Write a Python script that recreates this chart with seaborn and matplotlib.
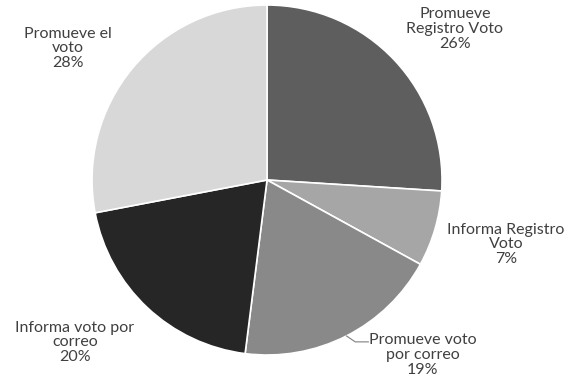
import matplotlib
matplotlib.use("Agg")
import matplotlib.pyplot as plt
import numpy as np
import seaborn as sns

categories = ["Promueve\nRegistro Voto", "Informa Registro\nVoto", "Promueve voto\npor correo",
              "Informa voto por\ncorreo", "Promueve el\nvoto"]
shares = [26, 7, 19, 20, 28]
colors = ["#5e5e5e", "#a6a6a6", "#898989", "#262626", "#d8d8d8"]
# label anchor points in units of the pie radius
label_pos = [(1.074, 0.863), (1.366, -0.366), (0.89, -1.0), (-1.097, -0.926), (-1.137, 0.754)]

sns.set_theme(style="white")
plt.rcParams["font.family"] = ["Lato", "DejaVu Sans"]

fig = plt.figure(figsize=(5.67, 3.83), dpi=100)
ax = fig.add_axes([0.1623, 0.0731, 0.6173, 0.9138])
wedges, _ = ax.pie(shares, colors=colors, startangle=90, counterclock=False,
                   radius=1.0, wedgeprops=dict(edgecolor="white", linewidth=1.2))
ax.set_xlim(-1, 1)
ax.set_ylim(-1, 1)
ax.set_aspect("equal")
ax.axis("off")

cum = np.cumsum([0] + shares)
for i, (cat, val) in enumerate(zip(categories, shares)):
    x, y = label_pos[i]
    ax.text(x, y, f"{cat}\n{val}%", ha="center", va="center", fontsize=11.5,
            color="#404040", linespacing=1.05, clip_on=False)
    if i == 2:
        mid = np.deg2rad(90 - (cum[i] + val / 2) / 100 * 360)
        ex, ey = np.cos(mid), np.sin(mid)
        ax.plot([ex, ex + 0.05, 0.58], [ey, -0.925, -0.925], color="#7f7f7f", lw=0.8,
                clip_on=False)

fig.savefig("out.png", dpi=100)
